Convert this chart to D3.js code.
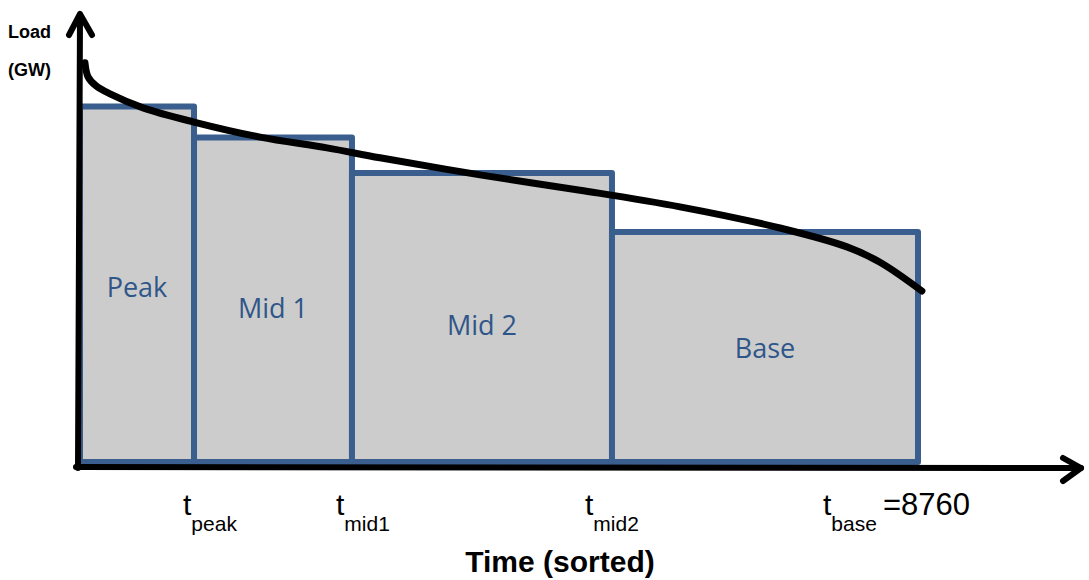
<!DOCTYPE html>
<html>
<head>
<meta charset="utf-8">
<script src="https://cdn.jsdelivr.net/npm/d3@7"></script>
<style>
  body { margin: 0; background: #fff; }
  svg { display: block; }
</style>
</head>
<body>
<svg width="1089" height="580"></svg>
<script>
// load blocks (hours are the right edge of each block)
let blockNames = ["Peak", "Mid 1", "Mid 2", "Base"];
let blockEnds = [1192, 2843, 5561, 8760];
let blockLoads = [79.0, 72.1, 64.2, 51.1];

// load duration curve
let curveHours = [52, 84, 167, 314, 659, 1181, 1882, 2582, 3136, 4181, 5227, 6272, 7317, 8017, 8362, 8801];
let curveLoads = [88.7, 85.6, 83.6, 81.8, 78.7, 75.6, 72.2, 69.8, 67.6, 63.8, 60.4, 56.7, 52.0, 47.8, 44.4, 38.0];

// tick labels under the x axis
let tickSubs = ["peak", "mid1", "mid2", "base"];
let tickDx = [-11, -16, -27, -95];   // where the "t" starts, relative to the block edge

function drawChart(){
    let svg = d3.select("svg");

    let x = d3.scaleLinear().domain([0, 8760]).range([80, 918]);
    let y = d3.scaleLinear().domain([0, 100]).range([462, 12]);

    let blue = "#3a5f8e";
    let blocks = blockNames.map((name, i) => ({
        name: name,
        start: i === 0 ? 0 : blockEnds[i - 1],
        end: blockEnds[i],
        load: blockLoads[i]
    }));

    svg.append("g")
        .selectAll("rect")
        .data(blocks)
        .join("rect")
        .attr("x", d => x(d.start))
        .attr("y", d => y(d.load))
        .attr("width", d => x(d.end) - x(d.start))
        .attr("height", d => y(0) - y(d.load))
        .attr("fill", "#cccccc")
        .attr("stroke", blue)
        .attr("stroke-width", 6)
        .attr("stroke-linejoin", "round");

    // block names, roughly in the middle of each block
    svg.append("g")
        .selectAll("text")
        .data(blocks)
        .join("text")
        .attr("x", d => x((d.start + d.end) / 2))
        .attr("y", (d, i) => [297, 318, 335, 358][i])
        .attr("text-anchor", "middle")
        .attr("font-family", "'Open Sans', sans-serif")
        .attr("font-size", 27)
        .attr("fill", "#2f5689")
        .text(d => d.name);

    let line = d3.line()
        .x(d => x(d[0]))
        .y(d => y(d[1]))
        .curve(d3.curveCatmullRom.alpha(0.5));

    svg.append("path")
        .datum(d3.zip(curveHours, curveLoads))
        .attr("fill", "none")
        .attr("stroke", "black")
        .attr("stroke-width", 7)
        .attr("stroke-linecap", "round")
        .attr("d", line);

    // axes with arrow heads
    let axes = svg.append("g")
        .attr("fill", "none")
        .attr("stroke", "black")
        .attr("stroke-width", 6)
        .attr("stroke-linecap", "round")
        .attr("stroke-linejoin", "round");

    axes.append("path").attr("d", "M78,468 L80,15");
    axes.append("path").attr("d", "M69,35 L80,14 L92,35");
    axes.append("path").attr("d", "M76,467 L1081,468");
    axes.append("path").attr("d", "M1063,458 L1081,468 L1063,481");

    // tick labels: t with subscript
    let ticks = svg.append("g")
        .attr("font-family", "'Liberation Sans', Arial, sans-serif")
        .attr("fill", "black");

    tickSubs.forEach((sub, i) => {
        let tx = x(blockEnds[i]) + tickDx[i];
        let t = ticks.append("text")
            .attr("x", tx)
            .attr("y", 515)
            .attr("font-size", 30);
        t.append("tspan").text("t");
        t.append("tspan")
            .attr("font-size", 21)
            .attr("dy", 16)
            .text(sub);
    });

    ticks.append("text")
        .attr("x", 883)
        .attr("y", 515)
        .attr("font-size", 31)
        .text("=8760");

    // axis titles
    svg.append("text")
        .attr("x", 8)
        .attr("y", 38)
        .attr("font-family", "'Liberation Sans', Arial, sans-serif")
        .attr("font-weight", "bold")
        .attr("font-size", 18)
        .text("Load");

    svg.append("text")
        .attr("x", 8)
        .attr("y", 76)
        .attr("font-family", "'Liberation Sans', Arial, sans-serif")
        .attr("font-weight", "bold")
        .attr("font-size", 18)
        .text("(GW)");

    svg.append("text")
        .attr("x", 560)
        .attr("y", 572)
        .attr("text-anchor", "middle")
        .attr("font-family", "'Liberation Sans', Arial, sans-serif")
        .attr("font-weight", "bold")
        .attr("font-size", 30)
        .text("Time (sorted)");
}

drawChart();
</script>
</body>
</html>
